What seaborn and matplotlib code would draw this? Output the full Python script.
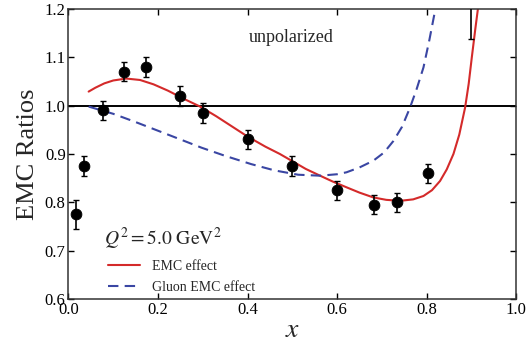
import numpy as np
import pandas as pd
import matplotlib
matplotlib.use("Agg")
import matplotlib.pyplot as plt
import seaborn as sns

# Data points
data_x = [0.017, 0.035, 0.077, 0.125, 0.174, 0.25, 0.30, 0.40, 0.50, 0.60, 0.683, 0.733, 0.803, 0.899]
data_y = [0.775, 0.875, 0.99, 1.07, 1.08, 1.02, 0.985, 0.93, 0.875, 0.825, 0.795, 0.80, 0.86, 1.25]
data_err = [0.03, 0.02, 0.02, 0.02, 0.02, 0.02, 0.02, 0.02, 0.02, 0.02, 0.02, 0.02, 0.02, 0.112]

# EMC effect curve
emc_x = [0.045, 0.06, 0.08, 0.10, 0.129, 0.16, 0.19, 0.222, 0.26, 0.294, 0.33, 0.37, 0.40, 0.44, 0.472,
         0.502, 0.53, 0.562, 0.59, 0.621, 0.65, 0.681, 0.71, 0.741, 0.77, 0.793, 0.812, 0.83,
         0.845, 0.86, 0.873, 0.886, 0.894, 0.901, 0.909, 0.916]
emc_y = [1.029, 1.037, 1.046, 1.052, 1.056, 1.053, 1.044, 1.031, 1.013, 0.998, 0.978, 0.954, 0.936, 0.915, 0.90,
         0.884, 0.869, 0.855, 0.843, 0.831, 0.820, 0.810, 0.805, 0.803, 0.806, 0.813, 0.825, 0.844,
         0.868, 0.90, 0.94, 0.996, 1.045, 1.10, 1.16, 1.21]

# Gluon EMC effect curve
glu_x = [0.045, 0.10, 0.147, 0.20, 0.25, 0.297, 0.35, 0.408, 0.46, 0.513, 0.562, 0.60, 0.621, 0.65,
         0.681, 0.705, 0.726, 0.745, 0.763, 0.778, 0.793, 0.806, 0.819, 0.826]
glu_y = [0.998, 0.983, 0.967, 0.948, 0.930, 0.913, 0.896, 0.879, 0.866, 0.857, 0.855, 0.858, 0.862, 0.872,
         0.886, 0.903, 0.927, 0.956, 0.996, 1.035, 1.079, 1.135, 1.197, 1.24]

sns.set_style("ticks")
plt.rcParams['font.family'] = ['Liberation Serif', 'DejaVu Serif']
plt.rcParams['mathtext.fontset'] = 'stix'

fig = plt.figure(figsize=(5.31, 3.44), dpi=100)
ax = fig.add_axes([0.129, 0.131, 0.843, 0.843])

red = "#d42a2a"
blue = "#3a46a3"

ax.axhline(1.0, color="black", lw=1.4, zorder=1)

sns.lineplot(x=emc_x, y=emc_y, ax=ax, color=red, lw=1.5, sort=False, label="EMC effect", zorder=2)
sns.lineplot(x=glu_x, y=glu_y, ax=ax, color=blue, lw=1.5, sort=False, label="Gluon EMC effect",
             zorder=2)
ax.lines[-1].set_dashes([5, 3])

ax.errorbar(data_x, data_y, yerr=data_err, fmt="none", ecolor="black", elinewidth=1.2,
            capsize=2.5, capthick=1.0, zorder=3)
sns.scatterplot(x=data_x, y=data_y, ax=ax, color="black", s=60, edgecolor="black", zorder=4,
                legend=False)

ax.set_xlim(0, 1.0)
ax.set_ylim(0.6, 1.2)
ax.set_xticks([0.0, 0.2, 0.4, 0.6, 0.8, 1.0])
ax.set_yticks([0.6, 0.7, 0.8, 0.9, 1.0, 1.1, 1.2])
ax.set_xticklabels(["0.0", "0.2", "0.4", "0.6", "0.8", "1.0"])
ax.set_yticklabels(["0.6", "0.7", "0.8", "0.9", "1.0", "1.1", "1.2"])
ax.tick_params(direction="in", top=True, right=True, length=4, width=1, labelsize=12, pad=2,
               colors="black")
for s in ax.spines.values():
    s.set_linewidth(1.1)
    s.set_color("#333333")

ax.set_xlabel("$x$", fontsize=20, labelpad=0)
ax.set_ylabel("EMC Ratios", fontsize=19, labelpad=4)

ax.text(0.497, 1.14, "unpolarized", fontsize=13, ha="center", va="center")
ax.text(0.08, 0.724, "$Q^2 = 5.0\\ \\mathrm{GeV}^2$", fontsize=14, ha="left", va="center")

leg = ax.legend(loc="lower left", bbox_to_anchor=(0.06, -0.025), frameon=False, fontsize=10,
                handlelength=2.3, handletextpad=0.9, labelspacing=0.55)

fig.savefig("out.png", dpi=100)
